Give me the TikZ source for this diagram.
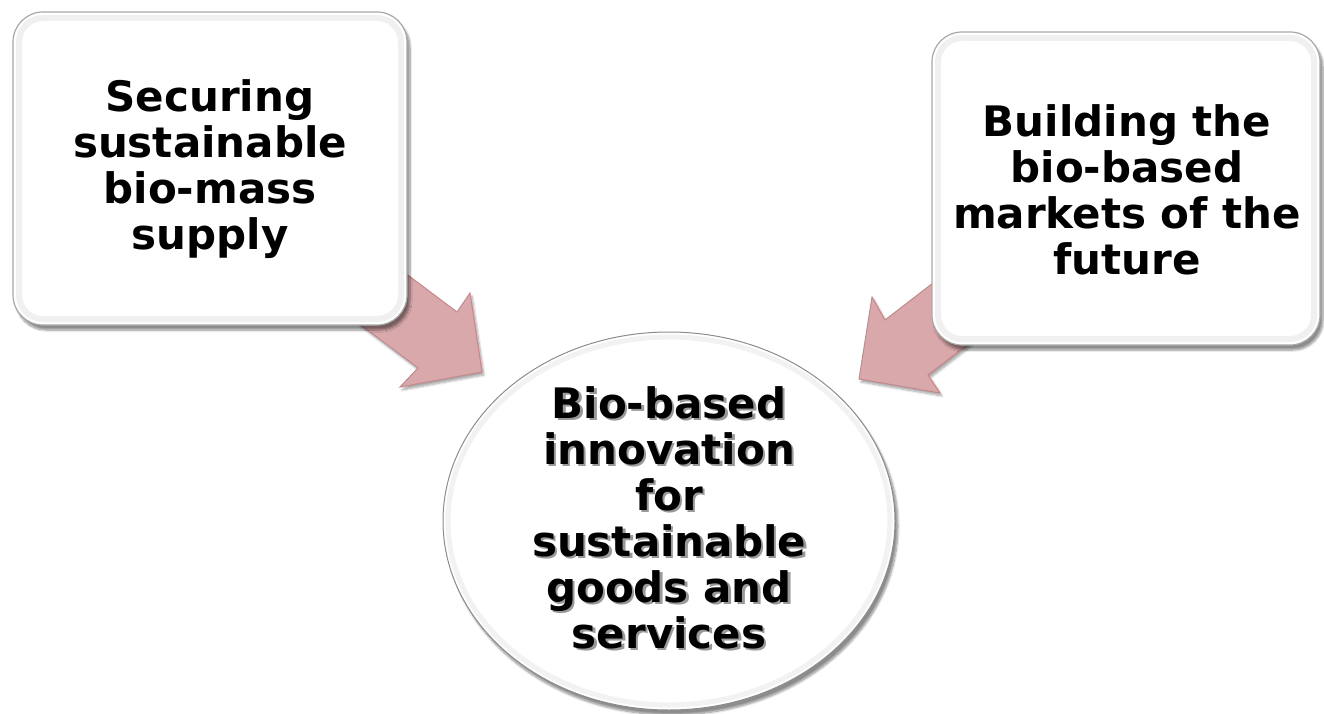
\documentclass[tikz,border=0pt]{standalone}
\usepackage{fontspec}
\setmainfont{DejaVu Sans}
\usetikzlibrary{shadows.blur,shapes.geometric}
\definecolor{arrowpink}{HTML}{D9A8AA}
\definecolor{arrowedge}{HTML}{C4898D}
\definecolor{boxedge}{HTML}{A8A8A8}
\newcommand{\shl}[1]{\makebox[0pt][l]{\hspace{2.5pt}\raisebox{-2.5pt}{\textcolor{black!40}{#1}}}#1}
\tikzset{
  bigtext/.style={font=\fontsize{42}{46}\selectfont\bfseries, align=center, text=black},
  card/.style={draw=boxedge, line width=1.2pt, fill=white, rounded corners=30pt,
    blur shadow={shadow xshift=3pt, shadow yshift=-5pt, shadow blur steps=8, shadow opacity=45}},
  bevel/.style={draw=black!6, line width=6pt, rounded corners=24pt},
  blockarrow/.style={fill=arrowpink, draw=arrowedge, line width=1pt, line join=miter,
    blur shadow={shadow xshift=2pt, shadow yshift=-3pt, shadow blur steps=6, shadow opacity=35}},
  hub/.style={draw=black!45, line width=1pt, fill=white,
    blur shadow={shadow xshift=3pt, shadow yshift=-5pt, shadow blur steps=8, shadow opacity=45}}
}
\begin{document}
\begin{tikzpicture}[x=1pt, y=-1pt]
\useasboundingbox (0,0) rectangle (1324,714);
% block arrows (drawn first, tails hidden under the boxes)
\draw[blockarrow] (377,252) -- (457,312) -- (470,293) -- (482,372) -- (400,387) -- (418,368) -- (338,308) -- cycle;
\draw[blockarrow] (990,239) -- (885,320) -- (872,297) -- (859,379) -- (940,393) -- (928,375) -- (1033,294) -- cycle;
% boxes
\draw[card] (13,12) rectangle (407,325);
\draw[bevel] (19,18) rectangle (401,319);
\node[bigtext] (left) at (210,169) {Securing\\sustainable\\bio-mass\\supply};
\draw[card] (932,32) rectangle (1320,345);
\draw[bevel] (938,38) rectangle (1314,339);
\node[bigtext] (right) at (1127,190) {Building the\\bio-based\\markets of the\\future};
% hub ellipse
\node[hub, ellipse, minimum width=452pt, minimum height=378pt] (hub) at (669,521) {};
\draw[black!5, line width=5pt] (669,521) ellipse [x radius=221pt, y radius=184pt];
\node[bigtext] (hubtext) at (669,519) {\shl{Bio-based}\\\shl{innovation}\\\shl{for}\\\shl{sustainable}\\\shl{goods and}\\\shl{services}};
\end{tikzpicture}
\end{document}
